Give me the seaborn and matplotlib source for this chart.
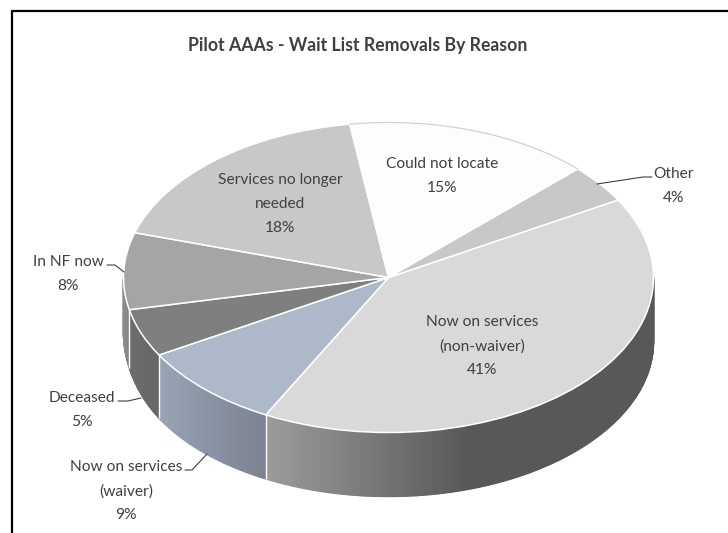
import numpy as np
import matplotlib
matplotlib.use("Agg")
import matplotlib.pyplot as plt
from matplotlib.collections import PolyCollection
from matplotlib.colors import to_rgb
import seaborn as sns

# Wait list removals, share by reason (percent), clockwise from the right
reasons = ["Now on services\n(non-waiver)", "Now on services\n(waiver)", "Deceased",
           "In NF now", "Services no longer\nneeded", "Could not locate", "Other"]
shares = [41, 9, 5, 8, 18, 15, 4]
top_colors = ["#d9d9d9", "#adb9ca", "#7f7f7f", "#a5a5a5", "#c8c8c8", "#fdfdfd", "#c8c8c8"]

TITLE = "Pilot AAAs - Wait List Removals By Reason"

# Layout in pixels
W, H = 728, 533
CX, CY, RX, RY, DEPTH = 388.5, 277.5, 265, 155, 64
START = 30
SQUASH = RY / RX

# Side wall shading: (x pixel, colour) stops for each visible slice
wall_stops = {
    0: [(265, "#9c9c9c"), (467, "#585858"), (660, "#585858")],
    1: [(160, "#98a3b4"), (265, "#7b8291")],
    2: [(125, "#6e6e6e"), (160, "#666666")],
    3: [(120, "#929292"), (130, "#808080")],
}
label_xy = [(482, 346), (126, 491), (82, 410), (68, 274), (280, 204), (442, 176), (674, 186)]
leaders = [
    [(185, 470), (192, 470), (207, 454)],
    [(118, 401), (128, 401), (141, 398)],
    [(107, 265), (115, 265), (124, 272)],
    [(597, 184), (643, 177), (652, 177)],
]

sns.set_theme(style="white")
plt.rcParams["font.family"] = ["Lato", "DejaVu Sans"]
TEXT = "#404040"


def py(y):
    """Pixel row to the squashed data coordinate of the axes."""
    return (H - np.asarray(y, dtype=float)) / SQUASH


fig = plt.figure(figsize=(W / 100, H / 100), dpi=100, facecolor="white")
ax = fig.add_axes([0, 0, 1, 1])

palette = sns.color_palette(top_colors)
wedges, _ = ax.pie(
    shares, colors=palette, startangle=START, counterclock=False,
    center=(CX, float(py(CY))), radius=RX,
    wedgeprops=dict(edgecolor="white", linewidth=1.1, zorder=3),
)
ax.set_aspect("auto")
ax.set_xlim(0, W)
ax.set_ylim(0, H / SQUASH)
ax.axis("off")

# Slice boundaries in degrees, running clockwise
edges = START - np.cumsum([0] + shares) * 3.6


def rim(theta_deg):
    t = np.radians(theta_deg)
    return CX + RX * np.cos(t), CY - RY * np.sin(t)


def wall_depth(theta_deg):
    """Wall height, a little shorter toward the far left of the rim."""
    c = np.minimum(np.cos(np.radians(theta_deg)), 0.0)
    return DEPTH - 8.0 * np.abs(c) ** 15


# Side wall: narrow vertical strips along the front half of the rim
for i, stops in wall_stops.items():
    hi, lo = edges[i], edges[i + 1]
    hi = min(hi, 0.0)
    lo = max(lo, -180.0)
    th = np.linspace(hi, lo, max(int((hi - lo) * 2), 8))
    xs, ys = rim(th)
    ds = wall_depth(th)
    rgb = np.array([to_rgb(c) for _, c in stops])
    stop_x = [x for x, _ in stops]
    polys, cols = [], []
    for j in range(len(th) - 1):
        polys.append([(xs[j], py(ys[j])), (xs[j + 1], py(ys[j + 1])),
                      (xs[j + 1], py(ys[j + 1] + ds[j + 1])), (xs[j], py(ys[j] + ds[j]))])
        xm = (xs[j] + xs[j + 1]) / 2
        cols.append([np.interp(xm, stop_x, rgb[:, k]) for k in range(3)])
    ax.add_collection(PolyCollection(polys, facecolors=cols, edgecolors=cols,
                                     linewidths=1.0, zorder=1))

# White seams where slices meet on the wall
for e in edges[1:4]:
    x, y = rim(e)
    ax.plot([x, x], [py(y), py(y + wall_depth(e))], color="white", lw=1.0, zorder=2,
            solid_capstyle="butt")

# Faint outline on the back of the white slice
arc = np.linspace(edges[5], edges[6], 80)
arc_x, arc_y = rim(arc)
ax.plot(arc_x, py(arc_y), color="#d2d2d2", lw=0.9, zorder=4)

# Leader lines
for pts in leaders:
    xs, ys = zip(*pts)
    ax.plot(xs, py(ys), color="#404040", lw=0.8, zorder=5)

# Slice labels
for name, val, (x, y) in zip(reasons, shares, label_xy):
    ax.text(x, py(y), f"{name}\n{val}%", ha="center", va="center", ma="center",
            fontsize=11.2, color=TEXT, linespacing=1.92, zorder=6)

ax.text(357.5, py(46), TITLE, ha="center", va="center", fontsize=12.7,
        fontweight="bold", color=TEXT, zorder=6)

# Black frame along the left and top of the chart
ax.plot([12, 12, 728], py([533, 11, 11]), color="black", lw=1.6, zorder=6,
        solid_joinstyle="miter")

fig.savefig("out.png", dpi=100, facecolor="white")
